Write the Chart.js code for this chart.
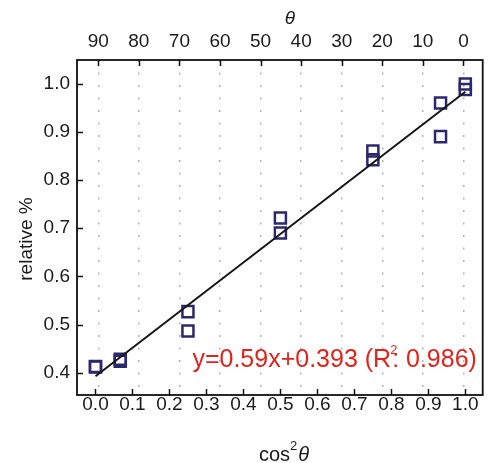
<!DOCTYPE html>
<html>
<head>
<meta charset="utf-8">
<script src="https://cdn.jsdelivr.net/npm/chart.js@4/dist/chart.umd.min.js"></script>
<style>
  html, body { margin: 0; padding: 0; background: #fff; }
</style>
</head>
<body>
<canvas id="myChart" width="493" height="463"></canvas>
<script>
// measured points: cos^2(theta) vs relative %
const cos2 = [0, 0, 0.067, 0.067, 0.25, 0.25, 0.5, 0.5, 0.75, 0.75, 0.933, 0.933, 1, 1];
const relative = [0.413, 0.412, 0.428, 0.424, 0.527, 0.487, 0.721, 0.69, 0.86, 0.842, 0.96, 0.89, 0.999, 0.988];

// linear fit end points
const fitX = [0, 1];
const fitY = [0.393, 0.983];

// tick labels
const xTicks = [0, 0.1, 0.2, 0.3, 0.4, 0.5, 0.6, 0.7, 0.8, 0.9, 1.0];
const thetaTicks = [90, 80, 70, 60, 50, 40, 30, 20, 10, 0];
const yTicks = [0.4, 0.5, 0.6, 0.7, 0.8, 0.9, 1.0];

const fitLabel = "y=0.59x+0.393 (R";
const fitLabelEnd = ": 0.986)";

const FONT = '"Liberation Sans", Arial, sans-serif';
const tickFont = { family: FONT, size: 19 };

const setTicks = (list) => (scale) => {
  scale.ticks = list.map(v => ({ value: v }));
};

// frame, inward ticks, titles and fit text
const decor = {
  id: "decor",
  afterDraw(chart) {
    const { ctx, chartArea: a, scales } = chart;
    ctx.save();
    ctx.strokeStyle = "#111";
    ctx.lineWidth = 1.8;
    ctx.strokeRect(a.left, a.top, a.right - a.left, a.bottom - a.top);

    ctx.lineWidth = 1.5;
    ctx.beginPath();
    xTicks.forEach(v => {
      const px = Math.round(scales.x.getPixelForValue(v)) + 0.5;
      ctx.moveTo(px, a.bottom);
      ctx.lineTo(px, a.bottom - 6);
    });
    thetaTicks.forEach(v => {
      const px = Math.round(scales.x2.getPixelForValue(v)) + 0.5;
      ctx.moveTo(px, a.top);
      ctx.lineTo(px, a.top + 6);
    });
    yTicks.forEach(v => {
      const py = Math.round(scales.y.getPixelForValue(v)) + 0.5;
      ctx.moveTo(a.left, py);
      ctx.lineTo(a.left + 6, py);
    });
    ctx.stroke();

    ctx.fillStyle = "#1a1a1a";
    // y title
    ctx.save();
    ctx.translate(32, 239);
    ctx.rotate(-Math.PI / 2);
    ctx.font = "19px " + FONT;
    ctx.textAlign = "center";
    ctx.textBaseline = "alphabetic";
    ctx.fillText("relative %", 0, 0);
    ctx.restore();

    // bottom title cos^2 theta
    ctx.textAlign = "left";
    ctx.textBaseline = "alphabetic";
    const big = "20px " + FONT, sup = "13px " + FONT, ital = "italic 20px " + FONT;
    ctx.font = big; const w1 = ctx.measureText("cos").width;
    ctx.font = sup; const w2 = ctx.measureText("2").width;
    ctx.font = ital; const w3 = ctx.measureText("\u03b8").width;
    let bx = 284 - (w1 + w2 + w3 + 1) / 2;
    ctx.font = big; ctx.fillText("cos", bx, 461);
    ctx.font = sup; ctx.fillText("2", bx + w1, 450);
    ctx.font = ital; ctx.fillText("\u03b8", bx + w1 + w2 + 1, 461);

    // top title theta
    ctx.font = "italic 19px " + FONT;
    ctx.textAlign = "center";
    ctx.fillText("\u03b8", 290, 24);

    // fit annotation
    ctx.fillStyle = "#e3231b";
    ctx.textAlign = "left";
    const tx = scales.x.getPixelForValue(0.262);
    const ty = 367;
    ctx.font = "25px " + FONT;
    ctx.fillText(fitLabel, tx, ty);
    const wa = ctx.measureText(fitLabel).width;
    ctx.font = "13px " + FONT;
    ctx.fillText("2", tx + wa - 1, ty - 13);
    ctx.font = "25px " + FONT;
    ctx.fillText(fitLabelEnd, tx + wa + 1, ty);
    ctx.restore();
  }
};

const config = {
  type: "scatter",
  data: {
    datasets: [
      {
        type: "line",
        label: "fit",
        data: fitX.map((x, i) => ({ x: x, y: fitY[i] })),
        borderColor: "#161616",
        borderWidth: 2,
        pointRadius: 0,
        fill: false,
      },
      {
        label: "relative",
        data: cos2.map((x, i) => ({ x: x, y: relative[i] })),
        pointStyle: "rect",
        pointRadius: 7.8,
        pointBorderWidth: 2.5,
        borderColor: "#2b286e",
        backgroundColor: "rgba(0,0,0,0)",
      },
    ],
  },
  options: {
    responsive: false,
    animation: false,
    layout: { padding: { left: 0, right: 1, top: 0, bottom: 0 } },
    plugins: { legend: { display: false }, tooltip: { enabled: false } },
    scales: {
      x: {
        type: "linear",
        position: "bottom",
        min: -0.05,
        max: 1.047,
        afterBuildTicks: setTicks(xTicks),
        afterFit: (s) => { s.height = 68; s.paddingLeft = 0; s.paddingRight = 0; },
        ticks: {
          font: tickFont,
          color: "#1a1a1a",
          padding: -2,
          maxRotation: 0,
          autoSkip: false,
          callback: (v) => v.toFixed(1),
        },
        grid: { display: false, drawTicks: false },
        border: { display: false },
      },
      x2: {
        type: "linear",
        position: "top",
        reverse: true,
        min: -4.75,
        max: 95.25,
        afterBuildTicks: setTicks(thetaTicks),
        afterFit: (s) => { s.height = 60; s.paddingLeft = 0; s.paddingRight = 0; },
        ticks: {
          font: tickFont,
          color: "#1a1a1a",
          padding: 7,
          maxRotation: 0,
          autoSkip: false,
        },
        grid: {
          display: true,
          drawOnChartArea: true,
          drawTicks: false,
          color: "#b3b3b3",
          lineWidth: 1.5,
        },
        border: { display: false, dash: [2, 10.5] },
      },
      y: {
        type: "linear",
        position: "left",
        min: 0.354,
        max: 1.049,
        afterBuildTicks: setTicks(yTicks),
        afterFit: (s) => { s.width = 77; s.paddingTop = 0; s.paddingBottom = 0; },
        ticks: {
          font: tickFont,
          color: "#1a1a1a",
          padding: 7,
          autoSkip: false,
          callback: (v) => v.toFixed(1),
        },
        grid: { display: false, drawTicks: false },
        border: { display: false },
      },
    },
  },
  plugins: [decor],
};

const myChart = new Chart(document.getElementById("myChart"), config);
</script>
</body>
</html>
